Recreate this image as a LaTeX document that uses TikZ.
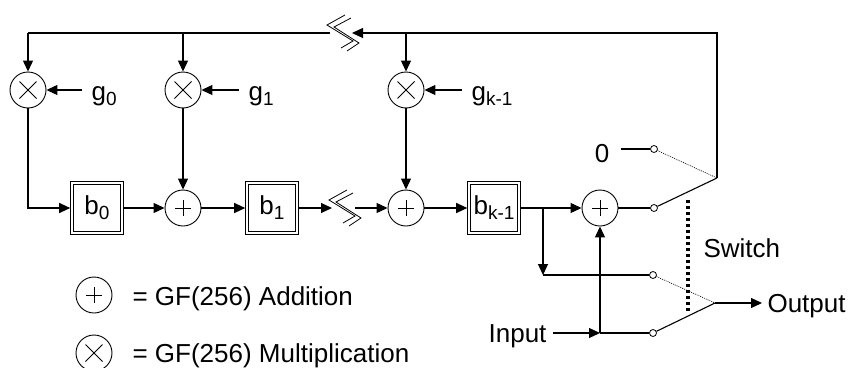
\documentclass[tikz,border=0pt]{standalone}
\usepackage{fontspec}
\setmainfont{Liberation Sans}
\usetikzlibrary{arrows.meta}
\newcommand{\idx}[1]{\raisebox{-5pt}{\fontsize{19}{19}\selectfont #1}}
\tikzset{
  arr/.style={-{Triangle[length=11pt,width=10pt]}},
  adder/.style={circle,draw,line width=0.9pt,minimum size=36pt,inner sep=0pt,
    path picture={\draw[line width=0.8pt]
      ([xshift=-8pt]path picture bounding box.center) -- ([xshift=8pt]path picture bounding box.center)
      ([yshift=-8pt]path picture bounding box.center) -- ([yshift=8pt]path picture bounding box.center);}},
  mult/.style={circle,draw,line width=0.9pt,minimum size=36pt,inner sep=0pt,
    path picture={\draw[line width=0.8pt]
      ([shift={(-8.5pt,-8.5pt)}]path picture bounding box.center) -- ([shift={(8.5pt,8.5pt)}]path picture bounding box.center)
      ([shift={(-8.5pt,8.5pt)}]path picture bounding box.center) -- ([shift={(8.5pt,-8.5pt)}]path picture bounding box.center);}},
  reg/.style={draw,double,double distance=1.8pt,line width=0.9pt,outer sep=1.8pt,minimum size=50pt,inner sep=0pt},
  contact/.style={circle,draw,fill=white,line width=0.8pt,minimum size=7pt,inner sep=0pt},
  glbl/.style={anchor=west,inner xsep=9pt,inner ysep=0pt,text height=20pt,text depth=0pt},
  capl/.style={inner ysep=0pt,text height=18pt,text depth=0pt},
  brkmark/.pic={
    \draw[line width=0.8pt] (4,-18) -- (-14,-8) -- (12,8) -- (0,15);
    \draw[line width=0.8pt] (10,-15) -- (-7,-6) -- (18,10) -- (6,18);}
}
\begin{document}
\begin{tikzpicture}[x=1pt,y=-1pt,line width=1.1pt,every node/.style={font=\fontsize{26}{30}\selectfont}]
  \useasboundingbox (0,0) rectangle (849,367);
  % multipliers and coefficients
  \node[mult] (m0) at (28,90) {};
  \node[mult] (m1) at (183,90) {};
  \node[mult] (mk) at (406,90) {};
  \node[glbl] (g0) at (82,90) {g\idx{0}};
  \node[glbl] (g1) at (239,90) {g\idx{1}};
  \node[glbl] (gk) at (462,90) {g\idx{k-1}};
  % shift register
  \node[reg] (b0) at (97,208) {b\idx{0}};
  \node[reg] (b1) at (272,208) {b\idx{1}};
  \node[reg] (bk) at (494,208) {b\idx{k-1}};
  \node[adder] (a0) at (183,208) {};
  \node[adder] (ak) at (406,208) {};
  \node[adder] (aout) at (600,208) {};
  % switch contacts
  \node[contact] (c0) at (654,149) {};
  \node[contact] (c1) at (654,208) {};
  \node[contact] (c2) at (653,275) {};
  \node[contact] (c3) at (653,333) {};
  \node[capl,anchor=east,inner xsep=11pt] (zero) at (621,153.5) {0};
  \node[capl,anchor=east,inner xsep=6pt] (inp) at (553,333) {Input};
  \node[capl,anchor=west,inner xsep=5pt] (out) at (762,303) {Output};
  \node[capl,anchor=west,inner xsep=0pt] (swl) at (703,248) {Switch};
  \coordinate (t0) at (28,33);
  \coordinate (t1) at (183,33);
  \coordinate (tk) at (406,33);
  \coordinate (tr) at (717,33);
  \coordinate (p1) at (717,178);
  \coordinate (p2) at (715,303);
  \coordinate (brk1) at (341,33);
  \coordinate (brk2) at (343,208);
  \coordinate (j) at (543,208);
  \coordinate (jd) at (543,275);
  \coordinate (jin) at (600,333);
  % feedback line
  \draw (t0) -- ([xshift=-11pt]brk1);
  \draw[arr] (p1) -- (tr) -- ([xshift=11pt]brk1);
  \pic at (brk1) {brkmark};
  \draw[arr] (t0) -- (m0);
  \draw[arr] (t1) -- (m1);
  \draw[arr] (tk) -- (mk);
  \draw[arr] (g0) -- (m0);
  \draw[arr] (g1) -- (m1);
  \draw[arr] (gk) -- (mk);
  % forward path
  \draw[arr] (m0) |- (b0);
  \draw[arr] (b0) -- (a0);
  \draw[arr] (m1) -- (a0);
  \draw[arr] (a0) -- (b1);
  \draw[arr] (b1) -- ([xshift=-11pt]brk2);
  \pic at (brk2) {brkmark};
  \draw[arr] ([xshift=12pt]brk2) -- (ak);
  \draw[arr] (mk) -- (ak);
  \draw[arr] (ak) -- (bk);
  \draw[arr] (bk) -- (aout);
  \draw[arr] (j) -- (jd);
  \draw (jd) -- (c2);
  \draw[arr] (inp) -- (jin);
  \draw (jin) -- (c3);
  \draw[arr] (jin) -- (aout);
  \draw (aout) -- (c1);
  \draw (zero.east |- c0) -- (c0);
  % switches
  \draw[line width=0.6pt,dash pattern=on 1pt off 1pt] (c0) -- (p1);
  \draw (c1) -- (p1);
  \draw[line width=0.6pt,dash pattern=on 1pt off 1pt] (c2) -- (p2);
  \draw (c3) -- (p2);
  \draw[arr] (p2) -- (out);
  \draw[line width=3.2pt,dash pattern=on 3pt off 3pt] (688,200) -- (688,312);
  % legend
  \node[adder] (lplus) at (94,295) {};
  \node[capl,anchor=west,inner xsep=0pt] (ltxt1) at (132,296) {= GF(256) Addition};
  \node[mult] (lmul) at (94,353) {};
  \node[capl,anchor=west,inner xsep=0pt] (ltxt2) at (132,353) {= GF(256) Multiplication};
\end{tikzpicture}
\end{document}
